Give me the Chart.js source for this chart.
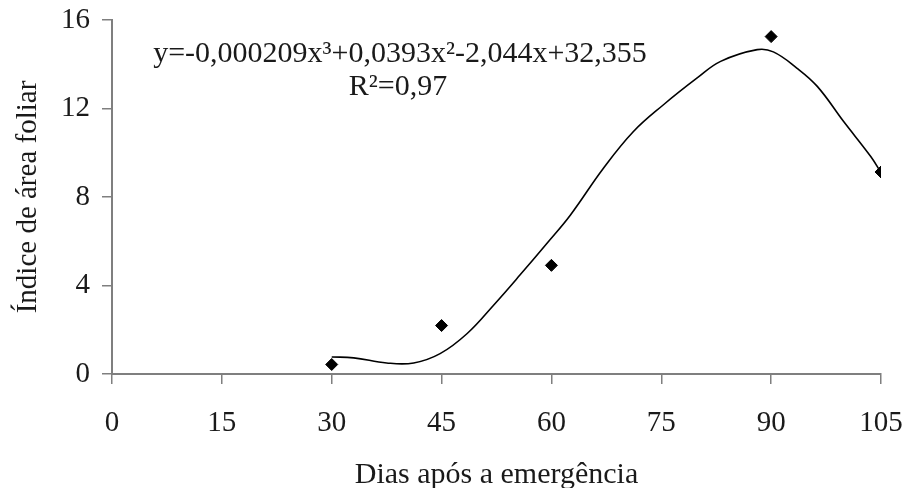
<!DOCTYPE html>
<html>
<head>
<meta charset="utf-8">
<script src="https://cdn.jsdelivr.net/npm/chart.js@4/dist/chart.umd.min.js"></script>
<style>
  html, body { margin: 0; padding: 0; background: #fff; }
  #wrap { width: 904px; height: 488px; }
</style>
</head>
<body>
<div id="wrap"><canvas id="chart" width="904" height="488"></canvas></div>
<script>
// dias após a emergência (pontos observados)
const diasObs = [30, 45, 60, 90, 105];
const iafObs = [0.43, 2.19, 4.91, 15.25, 9.13];

// linha de tendência
const diasTend = [30, 33, 37.5, 41.2, 44.8, 48.5, 52.1, 55.7, 59.4, 62.6, 67.1, 71.2,
  75.3, 79.9, 83.1, 88.1, 90.3, 93.5, 96.3, 99.9, 103.6, 105];
const iafTend = [0.77, 0.73, 0.50, 0.50, 0.92, 1.83, 3.11, 4.47, 5.91, 7.19, 9.30, 10.96,
  12.17, 13.38, 14.13, 14.66, 14.56, 13.83, 13.00, 11.41, 9.83, 9.10];

const xTicks = [0, 15, 30, 45, 60, 75, 90, 105];
const yTicks = [0, 4, 8, 12, 16];

const equacao = ["y=-0,000209x\u00b3+0,0393x\u00b2-2,044x+32,355", "R\u00b2=0,97"];

const FONT = "'Liberation Serif', 'Times New Roman', serif";
const FS = 29;
const TXT = "#1a1a1a";
const AXIS = "#7f7f7f";

// texto da equação
const eqPlugin = {
  id: "equacao",
  afterDatasetsDraw(chart) {
    const ctx = chart.ctx;
    ctx.save();
    ctx.fillStyle = TXT;
    ctx.font = "30px " + FONT;
    ctx.textAlign = "center";
    ctx.textBaseline = "alphabetic";
    ctx.fillText(equacao[0], 400, 62);
    ctx.fillText(equacao[1], 398, 95);
    ctx.restore();
  }
};

const axisCommon = {
  grid: { drawOnChartArea: false, drawTicks: true, tickLength: 10, color: AXIS, lineWidth: 1.5 },
  border: { color: AXIS, width: 2 },
};

new Chart(document.getElementById("chart"), {
  type: "scatter",
  data: {
    datasets: [
      {
        data: diasTend.map((x, i) => ({ x: x, y: iafTend[i] })),
        showLine: true,
        borderColor: "#000",
        borderWidth: 1.6,
        pointRadius: 0,
        tension: 0.4,
        fill: false
      },
      {
        data: diasObs.map((x, i) => ({ x: x, y: iafObs[i] })),
        pointStyle: "rectRot",
        pointRadius: 6,
        pointBackgroundColor: "#000",
        pointBorderColor: "#000",
        pointBorderWidth: 1,
        showLine: false
      }
    ]
  },
  options: {
    responsive: false,
    animation: false,
    events: [],
    layout: { padding: { top: 20, right: 23, bottom: 0, left: 0 } },
    plugins: { legend: { display: false }, tooltip: { enabled: false } },
    scales: {
      x: {
        ...axisCommon,
        type: "linear",
        min: 0,
        max: 105,
        afterBuildTicks: s => { s.ticks = xTicks.map(v => ({ value: v })); },
        afterFit: s => { s.height = 114; s.paddingLeft = 0; s.paddingRight = 0; },
        ticks: { color: TXT, font: { family: FONT, size: FS }, padding: 22, maxRotation: 0 },
        title: {
          display: true,
          text: "Dias após a emergência",
          color: TXT,
          font: { family: FONT, size: 30, lineHeight: 0.9 },
          padding: { top: 0, bottom: -1 }
        }
      },
      y: {
        ...axisCommon,
        min: 0,
        max: 16,
        afterBuildTicks: s => { s.ticks = yTicks.map(v => ({ value: v })); },
        afterFit: s => { s.width = 112; s.paddingTop = 0; s.paddingBottom = 0; },
        ticks: { color: TXT, font: { family: FONT, size: FS }, padding: 12 },
        title: {
          display: true,
          text: "Índice de área foliar",
          color: TXT,
          font: { family: FONT, size: FS, lineHeight: 0.9 },
          padding: { top: 15, bottom: 0 }
        }
      }
    }
  },
  plugins: [eqPlugin]
});
</script>
</body>
</html>
